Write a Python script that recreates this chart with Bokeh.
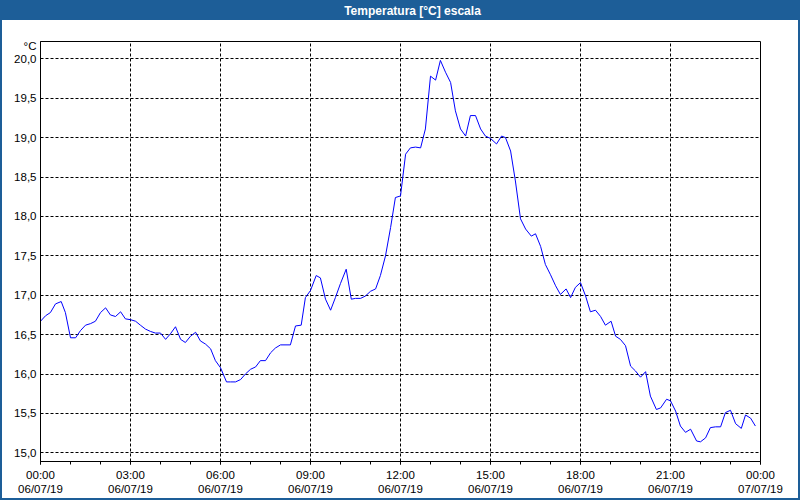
from bokeh.plotting import figure
from bokeh.models import Range1d, FixedTicker, LinearAxis
from bokeh.embed import file_html
from bokeh.resources import INLINE

hours = [0.00, 0.17, 0.33, 0.50, 0.69, 0.83, 1.00, 1.17, 1.33, 1.50, 1.67, 1.83,
         2.00, 2.17, 2.33, 2.50, 2.67, 2.83, 3.00, 3.17, 3.33, 3.50, 3.67, 3.83,
         4.00, 4.17, 4.33, 4.50, 4.67, 4.83, 5.00, 5.17, 5.33, 5.50, 5.67, 5.83,
         6.00, 6.20, 6.33, 6.50, 6.67, 6.83, 7.00, 7.17, 7.33, 7.50, 7.67, 7.83,
         8.00, 8.33, 8.50, 8.69, 8.83, 9.00, 9.19, 9.33, 9.50, 9.67, 9.83,
         10.00, 10.19, 10.36, 10.50, 10.67, 10.83, 11.00, 11.17, 11.33, 11.50, 11.67, 11.83,
         12.00, 12.17, 12.33, 12.50, 12.67, 12.83, 13.00, 13.17, 13.33, 13.50, 13.67, 13.83,
         14.00, 14.17, 14.33, 14.50, 14.67, 14.83, 15.00, 15.20, 15.37, 15.50, 15.67, 15.83,
         16.00, 16.17, 16.36, 16.50, 16.67, 16.83, 17.00, 17.17, 17.33, 17.52, 17.67, 17.83,
         18.00, 18.17, 18.33, 18.50, 18.67, 18.83, 19.02, 19.17, 19.33, 19.50, 19.67, 19.83,
         20.00, 20.17, 20.33, 20.53, 20.67, 20.87, 21.00, 21.17, 21.33, 21.50, 21.67, 21.87,
         22.00, 22.17, 22.33, 22.50, 22.67, 22.83, 23.00, 23.17, 23.36, 23.50, 23.67, 23.83]

temps = [16.67, 16.74, 16.78, 16.89, 16.92, 16.78, 16.46, 16.46, 16.55, 16.62, 16.64, 16.67,
         16.78, 16.84, 16.75, 16.73, 16.79, 16.70, 16.69, 16.67, 16.62, 16.57, 16.54, 16.52,
         16.52, 16.44, 16.51, 16.60, 16.44, 16.40, 16.48, 16.53, 16.42, 16.38, 16.32, 16.17,
         16.08, 15.90, 15.90, 15.90, 15.93, 16.00, 16.06, 16.09, 16.17, 16.17, 16.27, 16.33,
         16.37, 16.37, 16.61, 16.62, 16.97, 17.06, 17.25, 17.22, 16.95, 16.81, 16.97,
         17.15, 17.33, 16.95, 16.96, 16.96, 16.99, 17.05, 17.08, 17.25, 17.50, 17.86, 18.24,
         18.26, 18.79, 18.87, 18.88, 18.87, 19.11, 19.78, 19.73, 19.98, 19.83, 19.70, 19.34,
         19.11, 19.02, 19.28, 19.28, 19.11, 19.02, 18.99, 18.92, 19.02, 19.00, 18.83, 18.45,
         17.97, 17.84, 17.75, 17.78, 17.62, 17.39, 17.26, 17.12, 17.01, 17.08, 16.97, 17.10,
         17.16, 16.99, 16.79, 16.81, 16.73, 16.62, 16.67, 16.48, 16.44, 16.36, 16.10, 16.04,
         15.96, 16.03, 15.72, 15.55, 15.57, 15.68, 15.66, 15.53, 15.34, 15.26, 15.30, 15.15,
         15.14, 15.19, 15.32, 15.33, 15.33, 15.51, 15.54, 15.37, 15.31, 15.48, 15.44, 15.34]

x_ticks = [0, 3, 6, 9, 12, 15, 18, 21, 24]
x_tick_labels = ["00:00\n06/07/19", "03:00\n06/07/19", "06:00\n06/07/19",
                 "09:00\n06/07/19", "12:00\n06/07/19", "15:00\n06/07/19",
                 "18:00\n06/07/19", "21:00\n06/07/19", "00:00\n07/07/19"]
x_minor = list(range(0, 25))
y_ticks = [15.0, 15.5, 16.0, 16.5, 17.0, 17.5, 18.0, 18.5, 19.0, 19.5, 20.0]
y_tick_labels = ["15,0", "15,5", "16,0", "16,5", "17,0", "17,5",
                 "18,0", "18,5", "19,0", "19,5", "20,0"]
unit_pos = 20.16
unit_text = "°C"
title_pos = 12.4
title_text = "Temperatura [°C] escala"

BLUE = "#1d5e98"
FONT = "Liberation Sans"

Y0, Y1 = 14.89, 20.22
p = figure(width=800, height=500, output_backend="svg", toolbar_location=None,
           x_range=Range1d(0, 24), y_range=Range1d(Y0, Y1),
           min_border_left=40, min_border_right=40,
           min_border_top=41, min_border_bottom=39)
p.styles = {
    "background": f"linear-gradient(to bottom, {BLUE} 0px, {BLUE} 20px, white 20px, white 100%)",
    "box-shadow": f"inset 2px 0 0 {BLUE}, inset -2px 0 0 {BLUE}, inset 0 -2px 0 {BLUE}",
}
p.background_fill_color = "white"
p.border_fill_alpha = 0
p.outline_line_color = "black"
p.outline_line_width = 1

p.line(hours, temps, line_color="#0000ff", line_width=1)

xa = p.below[0]
xa.ticker = FixedTicker(ticks=x_ticks, minor_ticks=x_minor)
xa.major_label_overrides = {t: l for t, l in zip(x_ticks, x_tick_labels)}
xa.major_tick_out = 3
xa.major_tick_in = 0
xa.minor_tick_out = 3
xa.minor_tick_in = 0
xa.major_label_standoff = 4
xa.axis_line_color = "black"
xa.major_label_text_font = FONT
xa.major_label_text_font_size = "11.5px"
xa.major_label_text_color = "black"

ya = p.left[0]
ya.ticker = FixedTicker(ticks=y_ticks + [unit_pos])
ya.major_label_overrides = {**{t: l for t, l in zip(y_ticks, y_tick_labels)},
                            unit_pos: unit_text}
ya.major_tick_out = 0
ya.major_tick_in = 0
ya.minor_tick_out = 0
ya.minor_tick_in = 0
ya.major_label_standoff = 4
ya.axis_line_color = "black"
ya.major_label_text_font = FONT
ya.major_label_text_font_size = "11.5px"
ya.major_label_text_color = "black"

p.xgrid[0].ticker = FixedTicker(ticks=x_ticks)
p.ygrid[0].ticker = FixedTicker(ticks=y_ticks)
for g in (p.xgrid[0], p.ygrid[0]):
    g.grid_line_color = "black"
    g.grid_line_dash = "3 2"
    g.grid_line_width = 1
    g.grid_line_alpha = 1

# title drawn as a single-label axis above the frame
ta = LinearAxis(ticker=FixedTicker(ticks=[title_pos], minor_ticks=[]),
                major_label_overrides={title_pos: title_text})
ta.axis_line_color = None
ta.major_tick_line_color = None
ta.minor_tick_line_color = None
ta.major_tick_out = 0
ta.major_tick_in = 0
ta.minor_tick_out = 0
ta.minor_tick_in = 0
ta.major_label_standoff = 24
ta.major_label_text_color = "white"
ta.major_label_text_font = FONT
ta.major_label_text_font_style = "bold"
ta.major_label_text_font_size = "12px"
p.add_layout(ta, "above")

open("out.html", "w").write(file_html(p, INLINE))
